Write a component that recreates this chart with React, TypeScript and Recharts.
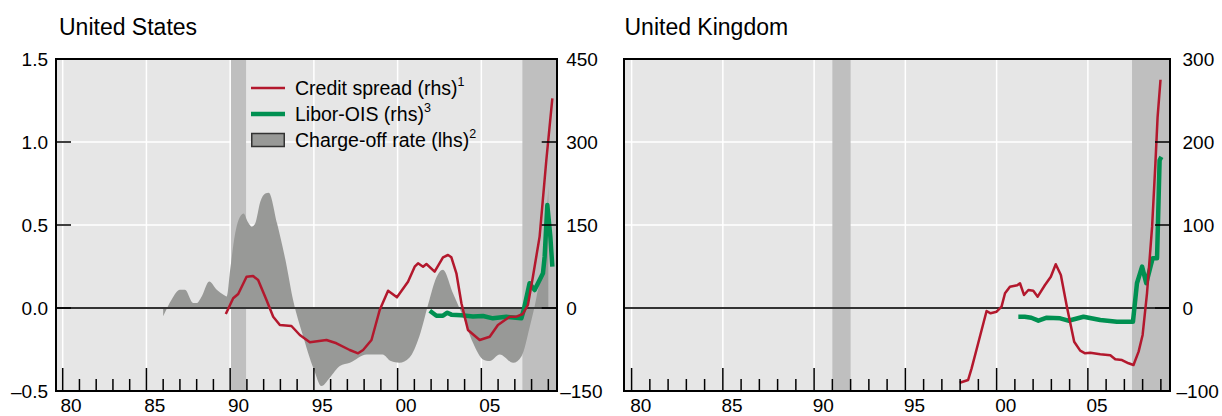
import React from 'react';
import {
  ComposedChart, Area, Line, XAxis, YAxis, CartesianGrid,
  ReferenceArea, ReferenceLine, Legend,
} from 'recharts';

// ── Data (year, value) ─────────────────────────────────────

// United States: charge-off rate, lhs
const usChargeOff: [number, number][] = [
  [1986.0, -0.05], [1986.5, 0.05], [1987.0, 0.11], [1987.3, 0.11], [1987.8, 0.03],
  [1988.0, 0.03], [1988.3, 0.07], [1988.75, 0.16], [1989.2, 0.11], [1989.6, 0.08],
  [1989.8, 0.07], [1990.0, 0.23], [1990.3, 0.45], [1990.5, 0.53], [1990.8, 0.57],
  [1991.05, 0.52], [1991.3, 0.49], [1991.5, 0.51], [1991.8, 0.64], [1992.1, 0.69],
  [1992.3, 0.695], [1992.8, 0.51], [1993.3, 0.29], [1993.8, 0.03], [1994.3, -0.15],
  [1995.0, -0.37], [1995.45, -0.47], [1995.95, -0.42], [1996.55, -0.35], [1997.15, -0.33],
  [1998.15, -0.28], [1999.1, -0.28], [1999.6, -0.32], [2000.1, -0.33], [2000.7, -0.3],
  [2001.3, -0.17], [2001.9, 0.05], [2002.3, 0.18], [2002.7, 0.23], [2003.3, 0.09],
  [2003.9, -0.05], [2004.5, -0.21], [2005.1, -0.31], [2005.5, -0.32], [2006.1, -0.28],
  [2006.9, -0.33], [2007.4, -0.29], [2007.9, -0.11], [2008.3, 0.07], [2008.8, 0.39],
  [2009.0, 0.73],
];

// United States: credit spread, rhs
const usCreditSpread: [number, number][] = [
  [1989.74, -10.8], [1990.18, 17.5], [1990.48, 25.3], [1990.98, 56.6], [1991.37, 57.8],
  [1991.67, 50.6], [1992.17, 14.5], [1992.57, -15.7], [1992.97, -30.7], [1993.66, -32.5],
  [1994.16, -48.8], [1994.76, -62], [1995.75, -57.8], [1996.35, -63.8], [1997.14, -75.9],
  [1997.64, -81.9], [1997.94, -75.9], [1998.44, -57.8], [1998.93, -3.6], [1999.43, 31.3],
  [1999.96, 19.3], [2000.62, 47.5], [2001.02, 74.6], [2001.22, 80.8], [2001.52, 74.6],
  [2001.72, 79.5], [2002.21, 65.6], [2002.71, 91.6], [2003.01, 95.8], [2003.21, 91.6],
  [2003.51, 62.7], [2003.81, 8.5], [2004.2, -39.8], [2004.9, -57.8], [2005.5, -51.9],
  [2005.99, -30.7], [2006.69, -15.7], [2007.09, -15.7], [2007.48, -10.8], [2007.78, 5.4],
  [2008.08, 56.6], [2008.48, 129], [2008.88, 267], [2009.24, 379],
];

// United States: Libor-OIS, rhs
const usLiborOis: [number, number][] = [
  [2001.92, -4.9], [2002.32, -13.9], [2002.71, -13.9], [2002.97, -8.5], [2003.21, -12],
  [2003.81, -13.3], [2004.5, -15.5], [2005.1, -14.5], [2005.69, -18.7], [2006.49, -16],
  [2007.39, -18.7], [2007.54, -2.4], [2007.88, 44.6], [2008.18, 32.5], [2008.68, 62.7],
  [2008.78, 92.7], [2008.94, 186], [2009.12, 129], [2009.24, 74.6],
];

// United Kingdom: credit spread
const ukCreditSpread: [number, number][] = [
  [1997.98, -90], [1998.44, -86.7], [1998.63, -72.7], [1998.99, -42.5], [1999.45, -3.6],
  [1999.67, -6.4], [2000.0, -4.5], [2000.27, 1.6], [2000.46, 17.7], [2000.73, 25.7],
  [2001.13, 27.3], [2001.28, 29.8], [2001.5, 15.7], [2001.74, 21.7], [2002.01, 20.8],
  [2002.25, 13.6], [2002.65, 27.7], [2002.97, 37.7], [2003.24, 52.7], [2003.52, 39.8],
  [2003.85, 1.6], [2004.25, -40.6], [2004.58, -51.4], [2004.85, -54.6], [2005.13, -53.9],
  [2005.68, -55.8], [2006.23, -57], [2006.5, -61.8], [2006.87, -62.7], [2007.23, -66.6],
  [2007.5, -68.7], [2007.78, -52.6], [2008.0, -32.5], [2008.24, 17.7], [2008.52, 98],
  [2008.7, 174], [2008.82, 230], [2008.98, 275],
];

// United Kingdom: Libor-OIS
const ukLiborOis: [number, number][] = [
  [2001.19, -10.5], [2001.54, -10.5], [2001.9, -11.7], [2002.29, -15.3], [2002.75, -11.7],
  [2003.48, -12.4], [2003.93, -15.3], [2004.76, -10.5], [2005.68, -14.5], [2006.59, -16.5],
  [2007.47, -16.5], [2007.69, 29.8], [2007.97, 49.8], [2008.2, 29.8], [2008.55, 59.9],
  [2008.79, 59.9], [2008.93, 178], [2009.03, 182],
];

// recessions (shaded)
const usRecessions: [number, number][] = [[1990.05, 1990.95], [2007.45, 2009.5]];
const ukRecessions: [number, number][] = [[1991.0, 1992.0], [2007.42, 2009.5]];

// axes
const X_DOMAIN: [number, number] = [1979.6, 2009.5];
const YEAR_TICKS = [
  1980, 1981, 1982, 1983, 1984, 1985, 1986, 1987, 1988, 1989,
  1990, 1991, 1992, 1993, 1994, 1995, 1996, 1997, 1998, 1999,
  2000, 2001, 2002, 2003, 2004, 2005, 2006, 2007, 2008, 2009,
];
const MAJOR_YEARS = [1980, 1985, 1990, 1995, 2000, 2005];
const US_LHS_TICKS = [-0.5, 0, 0.5, 1.0, 1.5];
const US_RHS_TICKS = [-150, 0, 150, 300, 450];
const UK_TICKS = [-100, 0, 100, 200, 300];

// ── Styles ─────────────────────────────────────────────────

const FONT = '"Liberation Sans", Arial, Helvetica, sans-serif';
const RED = '#b3182d';
const GREEN = '#009051';
const PLOT_BG = '#e6e6e6';
const SHADE = '#bfbfbf';
const AREA_FILL = '#989997';
const TICK_FONT = 19;
const AX = 1; // axis band thickness (recharts skips 0-sized axes)

const toPoints = (pairs: [number, number][]) => pairs.map(([x, v]) => ({ x, v }));

const minus = (s: string) => s.replace('-', '\u2013');

// ── Custom ticks ───────────────────────────────────────────

const XTick = ({ x, y, payload, pxPerYear }: any) => {
  const year = payload.value;
  const major = MAJOR_YEARS.includes(year);
  return (
    <g>
      <line x1={x} x2={x} y1={y} y2={y - (major ? 23 : 12)} stroke="#000" strokeWidth={1.5} />
      {major && (
        <text x={x + pxPerYear / 2} y={y + 20.5} textAnchor="middle"
          fontSize={TICK_FONT} fontFamily={FONT} fill="#000">
          {String(year).slice(2)}
        </text>
      )}
    </g>
  );
};

const LeftTick = ({ x, y, payload, fmt }: any) => (
  <g>
    <line x1={x} x2={x + 15} y1={y} y2={y} stroke="#000" strokeWidth={1.5} />
    {fmt && (
      <text x={x - 8} y={y} dy="0.36em" textAnchor="end"
        fontSize={TICK_FONT} fontFamily={FONT} fill="#000">
        {fmt(payload.value)}
      </text>
    )}
  </g>
);

// negative labels hang their minus sign a little to the left
const RightTick = ({ x, y, payload, gap }: any) => {
  const v = payload.value;
  return (
    <g>
      <line x1={x - 15} x2={x} y1={y} y2={y} stroke="#000" strokeWidth={1.5} />
      <text x={x + gap - (v < 0 ? 6 : 0)} y={y} dy="0.36em" textAnchor="start"
        fontSize={TICK_FONT} fontFamily={FONT} fill="#000">
        {minus(String(v))}
      </text>
    </g>
  );
};

// ── Legend ─────────────────────────────────────────────────

const LEGEND_ITEMS = [
  { key: 'cs', label: 'Credit spread (rhs)', sup: '1', kind: 'line', color: RED, w: 2.5 },
  { key: 'lo', label: 'Libor-OIS (rhs)', sup: '3', kind: 'line', color: GREEN, w: 4.5 },
  { key: 'co', label: 'Charge-off rate (lhs)', sup: '2', kind: 'box', color: AREA_FILL, w: 0 },
];

const LegendContent = () => (
  <div style={{ fontFamily: FONT, fontSize: 19.5, color: '#000' }}>
    {LEGEND_ITEMS.map((it) => (
      <div key={it.key} style={{ display: 'flex', alignItems: 'center', height: 26 }}>
        <svg width={34} height={26} style={{ marginRight: 10 }}>
          {it.kind === 'line'
            ? <line x1={0} x2={34} y1={13} y2={13} stroke={it.color} strokeWidth={it.w} />
            : <rect x={0.75} y={6.5} width={32.5} height={13} fill={it.color} stroke="#333" strokeWidth={1.5} />}
        </svg>
        <span style={{ whiteSpace: 'nowrap' }}>
          {it.label}
          <span style={{ fontSize: 12.5, position: 'relative', top: -9 }}>{it.sup}</span>
        </span>
      </div>
    ))}
  </div>
);

// ── Panels ─────────────────────────────────────────────────

const CHART_H = 416;
const PLOT_TOP = 59;
const PLOT_BOTTOM = 391;

function Frame({ left, right }: { left: number; right: number }) {
  return (
    <div style={{
      position: 'absolute', left: left - 1, top: PLOT_TOP - 1,
      width: right - left + 2, height: PLOT_BOTTOM - PLOT_TOP + 2,
      border: '2px solid #000', boxSizing: 'border-box', pointerEvents: 'none',
    }} />
  );
}

function Title({ text, left }: { text: string; left: number }) {
  return (
    <div style={{
      position: 'absolute', left, top: 16, fontFamily: FONT, fontSize: 23,
      lineHeight: '23px', color: '#000', whiteSpace: 'nowrap',
    }}>{text}</div>
  );
}

const chartMargin = (W: number, plotLeft: number, plotRight: number) => ({
  top: PLOT_TOP,
  right: W - plotRight - AX,
  bottom: CHART_H - PLOT_BOTTOM - AX,
  left: plotLeft - AX,
});

function USPanel() {
  const W = 611;
  const plotLeft = 56;
  const plotRight = 556.7;
  const pxPerYear = (plotRight - plotLeft) / (X_DOMAIN[1] - X_DOMAIN[0]);
  return (
    <div style={{ position: 'absolute', left: 0, top: 0, width: W, height: CHART_H }}>
      <ComposedChart width={W} height={CHART_H} margin={chartMargin(W, plotLeft, plotRight)}
        style={{ overflow: 'visible' }}>
        <CartesianGrid yAxisId="l" fill={PLOT_BG} fillOpacity={1} stroke="#fff" strokeWidth={1.5}
          verticalValues={MAJOR_YEARS} horizontalValues={[0.5, 1.0]} />
        <XAxis type="number" dataKey="x" domain={X_DOMAIN} allowDataOverflow ticks={YEAR_TICKS}
          interval={0} height={AX} axisLine={false} tickLine={false} tickSize={0} tickMargin={0}
          tick={<XTick pxPerYear={pxPerYear} />} />
        <YAxis yAxisId="l" type="number" domain={[-0.5, 1.5]} ticks={US_LHS_TICKS} interval={0}
          width={AX} axisLine={false} tickLine={false} tickSize={0} tickMargin={0}
          tick={<LeftTick fmt={(v: number) => minus(v.toFixed(1))} />} />
        <YAxis yAxisId="r" orientation="right" type="number" domain={[-150, 450]} ticks={US_RHS_TICKS}
          interval={0} width={AX} axisLine={false} tickLine={false} tickSize={0} tickMargin={0}
          tick={<RightTick gap={9.5} />} />
        {usRecessions.map(([a, b]) => (
          <ReferenceArea key={a} yAxisId="l" x1={a} x2={b} fill={SHADE} fillOpacity={1} stroke="none" />
        ))}
        <Area yAxisId="l" data={toPoints(usChargeOff)} dataKey="v" type="monotone" baseValue={0}
          fill={AREA_FILL} fillOpacity={1} stroke="none" isAnimationActive={false} />
        <ReferenceLine yAxisId="l" y={0} stroke="#333" strokeWidth={2} />
        <Line yAxisId="r" data={toPoints(usLiborOis)} dataKey="v" type="linear" stroke={GREEN}
          strokeWidth={4.5} dot={false} strokeLinejoin="round" isAnimationActive={false} />
        <Line yAxisId="r" data={toPoints(usCreditSpread)} dataKey="v" type="linear" stroke={RED}
          strokeWidth={2.5} dot={false} strokeLinejoin="round" isAnimationActive={false} />
        <Legend layout="vertical" align="center" verticalAlign="middle"
          wrapperStyle={{ left: 251, top: 75, width: 'auto' }} content={() => <LegendContent />} />
      </ComposedChart>
      <Frame left={plotLeft} right={plotRight} />
      <Title text="United States" left={59} />
    </div>
  );
}

function UKPanel() {
  const OFFSET = 611;
  const W = 611;
  const plotLeft = 624.3 - OFFSET;
  const plotRight = 1170 - OFFSET;
  const pxPerYear = (plotRight - plotLeft) / (X_DOMAIN[1] - X_DOMAIN[0]);
  return (
    <div style={{ position: 'absolute', left: OFFSET, top: 0, width: W, height: CHART_H }}>
      <ComposedChart width={W} height={CHART_H} margin={chartMargin(W, plotLeft, plotRight)}
        style={{ overflow: 'visible' }}>
        <CartesianGrid yAxisId="r" fill={PLOT_BG} fillOpacity={1} stroke="#fff" strokeWidth={1.5}
          verticalValues={MAJOR_YEARS} horizontalValues={[100, 200]} />
        <XAxis type="number" dataKey="x" domain={X_DOMAIN} allowDataOverflow ticks={YEAR_TICKS}
          interval={0} height={AX} axisLine={false} tickLine={false} tickSize={0} tickMargin={0}
          tick={<XTick pxPerYear={pxPerYear} />} />
        <YAxis yAxisId="l" type="number" domain={[-100, 300]} ticks={UK_TICKS} interval={0}
          width={AX} axisLine={false} tickLine={false} tickSize={0} tickMargin={0}
          tick={<LeftTick />} />
        <YAxis yAxisId="r" orientation="right" type="number" domain={[-100, 300]} ticks={UK_TICKS}
          interval={0} width={AX} axisLine={false} tickLine={false} tickSize={0} tickMargin={0}
          tick={<RightTick gap={12.5} />} />
        {ukRecessions.map(([a, b]) => (
          <ReferenceArea key={a} yAxisId="r" x1={a} x2={b} fill={SHADE} fillOpacity={1} stroke="none" />
        ))}
        <ReferenceLine yAxisId="r" y={0} stroke="#333" strokeWidth={2} />
        <Line yAxisId="r" data={toPoints(ukLiborOis)} dataKey="v" type="linear" stroke={GREEN}
          strokeWidth={4.5} dot={false} strokeLinejoin="round" isAnimationActive={false} />
        <Line yAxisId="r" data={toPoints(ukCreditSpread)} dataKey="v" type="linear" stroke={RED}
          strokeWidth={2.5} dot={false} strokeLinejoin="round" isAnimationActive={false} />
      </ComposedChart>
      <Frame left={plotLeft} right={plotRight} />
      <Title text="United Kingdom" left={624.5 - OFFSET} />
    </div>
  );
}

export default function App() {
  return (
    <div style={{
      position: 'absolute', left: 0, top: 0, width: 1222, height: 416,
      background: '#fff', overflow: 'hidden',
    }}>
      <USPanel />
      <UKPanel />
    </div>
  );
}
